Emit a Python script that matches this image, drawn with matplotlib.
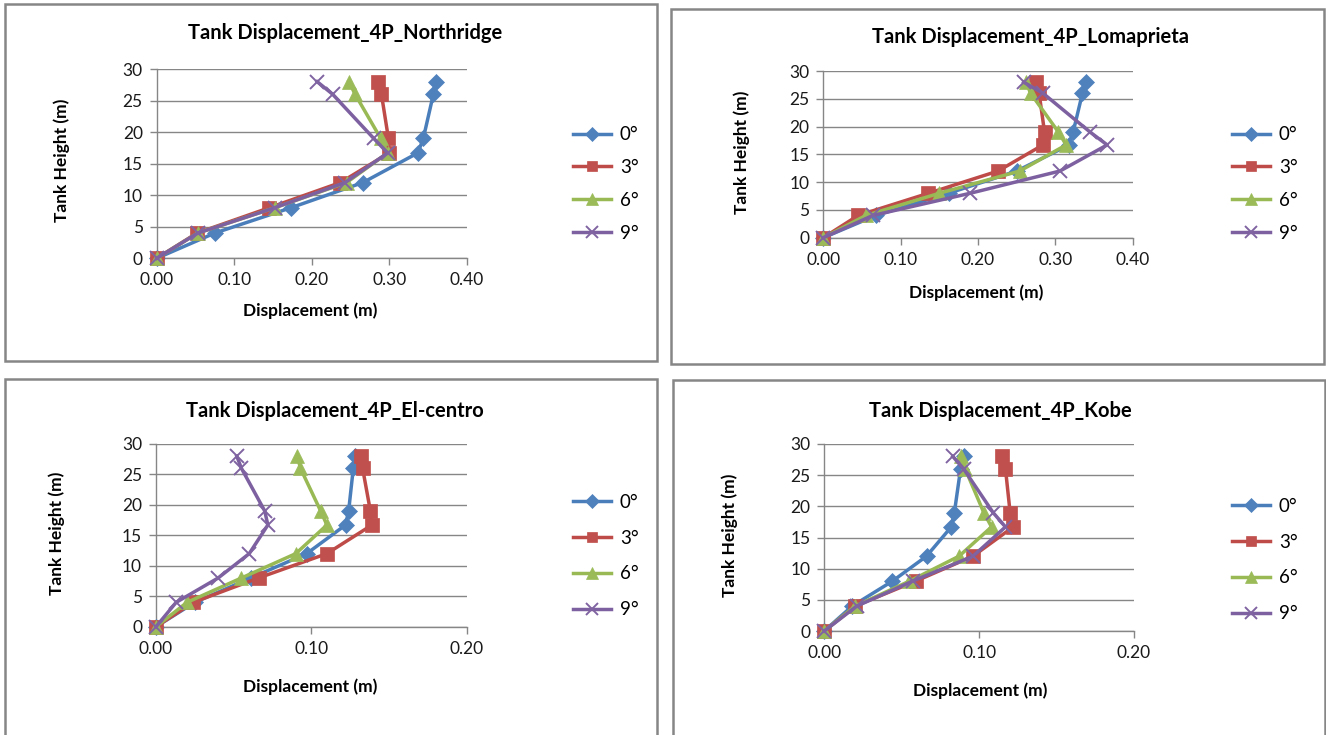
import matplotlib
matplotlib.use("Agg")
import matplotlib.pyplot as plt
from matplotlib.patches import Rectangle

plt.rcParams['font.family'] = ['Lato', 'DejaVu Sans']

# ---------------- data ----------------
heights = [0, 4, 8, 12, 16.7, 19, 26, 28]
series_labels = ["0°", "3°", "6°", "9°"]

northridge_0 = [0, 0.075, 0.173, 0.266, 0.337, 0.344, 0.357, 0.360]
northridge_3 = [0, 0.052, 0.145, 0.237, 0.300, 0.299, 0.290, 0.286]
northridge_6 = [0, 0.053, 0.152, 0.245, 0.298, 0.289, 0.256, 0.248]
northridge_9 = [0, 0.053, 0.152, 0.243, 0.298, 0.280, 0.227, 0.207]

loma_0 = [0, 0.068, 0.162, 0.250, 0.318, 0.323, 0.335, 0.340]
loma_3 = [0, 0.045, 0.136, 0.226, 0.284, 0.286, 0.279, 0.275]
loma_6 = [0, 0.055, 0.150, 0.254, 0.314, 0.304, 0.268, 0.262]
loma_9 = [0, 0.064, 0.190, 0.306, 0.367, 0.345, 0.284, 0.259]

elcentro_0 = [0, 0.025, 0.061, 0.097, 0.122, 0.124, 0.127, 0.128]
elcentro_3 = [0, 0.024, 0.066, 0.110, 0.139, 0.138, 0.133, 0.132]
elcentro_6 = [0, 0.020, 0.055, 0.090, 0.110, 0.106, 0.093, 0.091]
elcentro_9 = [0, 0.013, 0.040, 0.060, 0.072, 0.070, 0.055, 0.052]

kobe_0 = [0, 0.018, 0.044, 0.066, 0.082, 0.084, 0.088, 0.090]
kobe_3 = [0, 0.020, 0.059, 0.096, 0.122, 0.120, 0.117, 0.115]
kobe_6 = [0, 0.020, 0.055, 0.087, 0.108, 0.103, 0.091, 0.088]
kobe_9 = [0, 0.021, 0.057, 0.096, 0.117, 0.109, 0.090, 0.083]

titles = ["Tank Displacement_4P_Northridge", "Tank Displacement_4P_Lomaprieta",
          "Tank Displacement_4P_El-centro", "Tank Displacement_4P_Kobe"]
xlabel = "Displacement (m)"
ylabel = "Tank Height (m)"
xticks_wide = [0.0, 0.1, 0.2, 0.3, 0.4]
xticks_narrow = [0.0, 0.1, 0.2]
yticks = [0, 5, 10, 15, 20, 25, 30]

# ---------------- styling ----------------
W, H = 1326, 735
colors = ["#4A7EBB", "#BE4B48", "#98B954", "#7D60A0"]
mfcs = ["#4F81BD", "#C0504D", "#9BBB59", "#8064A2"]
markers = ["D", "s", "^", "x"]
msizes = [8.5, 9.5, 10.5, 10]
gray = "#868686"

fig = plt.figure(figsize=(W / 100, H / 100), dpi=100)


def fx(px):
    return px / W


def fy(py):
    return 1 - py / H


# panel borders (pixel boxes: x0, y0, x1, y1)
boxes = [(5, 4, 657, 361), (671, 9, 1324, 364), (5, 379, 657, 740), (673, 380, 1325, 740)]
for (x0, y0, x1, y1) in boxes:
    fig.patches.append(Rectangle((fx(x0), fy(y1)), fx(x1 - x0), (y1 - y0) / H,
                                 transform=fig.transFigure, fill=False,
                                 edgecolor=gray, linewidth=1.8, zorder=0))

panels = [
    dict(area=(156.7, 69, 466.7, 258.3), data=[northridge_0, northridge_3, northridge_6, northridge_9],
         xmax=0.4, xticks=xticks_wide, title_xy=(345, 33), xl_xy=(310, 311), yl_xy=(62, 160),
         leg_xy=(573, 184), leg_sp=0.85),
    dict(area=(823.3, 71, 1132.7, 237.7), data=[loma_0, loma_3, loma_6, loma_9],
         xmax=0.4, xticks=xticks_wide, title_xy=(1030, 37), xl_xy=(976, 293), yl_xy=(742, 152),
         leg_xy=(1232, 184), leg_sp=0.85),
    dict(area=(156, 444, 466.7, 626.7), data=[elcentro_0, elcentro_3, elcentro_6, elcentro_9],
         xmax=0.2, xticks=xticks_narrow, title_xy=(335, 411), xl_xy=(310, 687), yl_xy=(57, 533),
         leg_xy=(573, 556), leg_sp=1.0),
    dict(area=(824.3, 444, 1134, 631), data=[kobe_0, kobe_3, kobe_6, kobe_9],
         xmax=0.2, xticks=xticks_narrow, title_xy=(1000, 411), xl_xy=(980, 691), yl_xy=(730, 535),
         leg_xy=(1232, 560), leg_sp=1.0),
]

for i, p in enumerate(panels):
    x0, y0, x1, y1 = p["area"]
    ax = fig.add_axes([fx(x0), fy(y1), fx(x1 - x0), (y1 - y0) / H])
    ax.set_xlim(0, p["xmax"])
    ax.set_ylim(0, 30)
    ax.set_xticks(p["xticks"])
    ax.set_xticklabels([f"{v:.2f}" for v in p["xticks"]])
    ax.set_yticks(yticks)
    ax.yaxis.grid(True, color=gray, linewidth=1.0)
    ax.set_axisbelow(True)
    for s in ["top", "right"]:
        ax.spines[s].set_visible(False)
    for s in ["left", "bottom"]:
        ax.spines[s].set_color(gray)
        ax.spines[s].set_linewidth(1.0)
    ax.tick_params(axis="both", direction="out", length=5, width=1.0, color=gray,
                   labelsize=12.5, labelcolor="#1a1a1a", pad=5)
    ax.patch.set_alpha(0)
    for j, vals in enumerate(p["data"]):
        ax.plot(vals, heights, color=colors[j], linewidth=2.5, marker=markers[j],
                markersize=msizes[j], markerfacecolor=mfcs[j], markeredgecolor=mfcs[j],
                markeredgewidth=1.4 if markers[j] == "x" else 0.5,
                label=series_labels[j], clip_on=False, zorder=3 + j)
    tx, ty = p["title_xy"]
    fig.text(fx(tx), fy(ty), titles[i], ha="center", va="center", fontsize=14.5,
             fontweight="bold")
    lx, ly = p["xl_xy"]
    fig.text(fx(lx), fy(ly), xlabel, ha="center", va="center", fontsize=12.5, fontweight="bold")
    yx, yy = p["yl_xy"]
    fig.text(fx(yx), fy(yy), ylabel, ha="center", va="center", fontsize=12.5, fontweight="bold",
             rotation=90)
    gx, gy = p["leg_xy"]
    leg = ax.legend(loc="center left", bbox_to_anchor=(fx(gx), fy(gy)),
                    bbox_transform=fig.transFigure, frameon=False, fontsize=13.5,
                    labelspacing=p["leg_sp"], handlelength=2.0, handletextpad=0.5,
                    borderpad=0, borderaxespad=0, markerscale=0.8)

fig.savefig("out.png", dpi=100)
